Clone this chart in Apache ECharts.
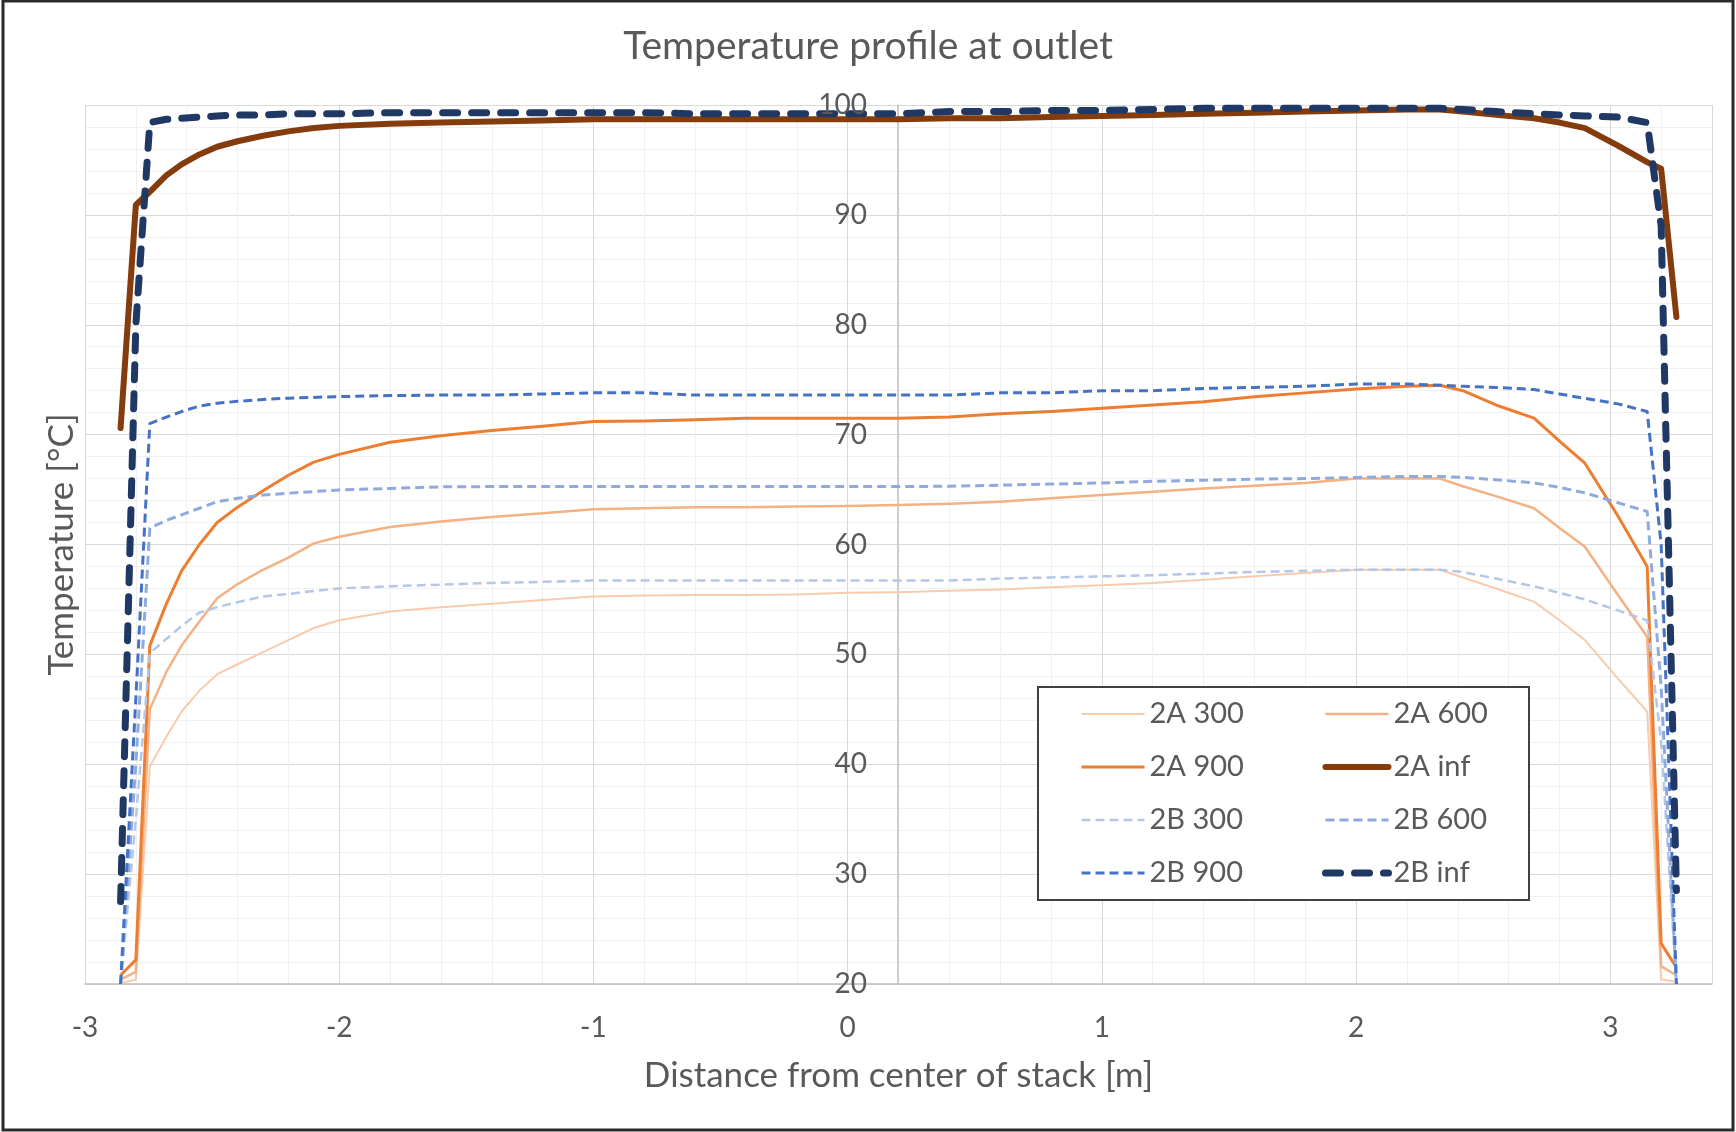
<!DOCTYPE html>
<html>
<head>
<meta charset="utf-8">
<script src="https://cdn.jsdelivr.net/npm/echarts@6/dist/echarts.min.js"></script>
<style>
html,body{margin:0;padding:0;background:#ffffff;}
#chart{width:1736px;height:1132px;}
</style>
</head>
<body>
<div id="chart"></div>
<script>
// Distance from center of stack [m]
const xValues = [-2.86, -2.80, -2.745, -2.68, -2.62, -2.55, -2.48, -2.40, -2.30, -2.20,
  -2.10, -2.00, -1.80, -1.60, -1.40, -1.20, -1.00, -0.80, -0.60, -0.40,
  -0.20, 0.00, 0.20, 0.40, 0.60, 0.80, 1.00, 1.20, 1.40, 1.60,
  1.80, 2.00, 2.20, 2.33, 2.42, 2.55, 2.70, 2.80, 2.90, 3.03,
  3.145, 3.20, 3.26];

// Temperature [°C]
const t2A300 = [20.1, 20.4, 39.8, 42.5, 44.8, 46.7, 48.2, 49.1, 50.2, 51.3,
  52.4, 53.1, 53.9, 54.3, 54.6, 54.95, 55.27, 55.35, 55.4, 55.4,
  55.45, 55.6, 55.65, 55.8, 55.9, 56.1, 56.3, 56.5, 56.8, 57.1,
  57.4, 57.7, 57.7, 57.7, 57.0, 56.0, 54.8, 53.1, 51.3, 47.8,
  44.8, 20.4, 20.2];
const t2A600 = [20.4, 21.1, 45.0, 48.4, 50.8, 53.0, 55.1, 56.4, 57.7, 58.8,
  60.1, 60.7, 61.6, 62.1, 62.5, 62.85, 63.2, 63.3, 63.4, 63.4,
  63.45, 63.5, 63.6, 63.7, 63.9, 64.2, 64.5, 64.8, 65.1, 65.35,
  65.6, 66.0, 66.0, 66.0, 65.3, 64.4, 63.3, 61.5, 59.8, 55.4,
  51.6, 21.6, 20.8];
const t2A900 = [20.8, 22.2, 50.8, 54.6, 57.6, 60.0, 62.0, 63.4, 64.9, 66.3,
  67.5, 68.2, 69.3, 69.9, 70.37, 70.77, 71.2, 71.25, 71.35, 71.5,
  71.5, 71.5, 71.5, 71.6, 71.9, 72.1, 72.4, 72.7, 73.0, 73.45,
  73.8, 74.15, 74.4, 74.5, 74.0, 72.7, 71.5, 69.4, 67.4, 62.6,
  58.0, 23.7, 21.5];
const t2Ainf = [70.6, 90.9, 92.1, 93.6, 94.6, 95.5, 96.2, 96.7, 97.2, 97.6,
  97.9, 98.1, 98.3, 98.4, 98.5, 98.6, 98.7, 98.7, 98.7, 98.7,
  98.7, 98.7, 98.7, 98.8, 98.8, 98.9, 99.0, 99.1, 99.2, 99.3,
  99.4, 99.5, 99.6, 99.6, 99.4, 99.1, 98.8, 98.4, 97.9, 96.3,
  94.8, 94.2, 80.7];
const t2B300 = [20.0, 35.0, 50.1, 51.4, 52.6, 53.8, 54.3, 54.75, 55.27, 55.5,
  55.77, 56.0, 56.2, 56.35, 56.5, 56.6, 56.72, 56.72, 56.72, 56.72,
  56.72, 56.72, 56.72, 56.72, 56.9, 57.0, 57.1, 57.2, 57.35, 57.5,
  57.6, 57.7, 57.7, 57.7, 57.5, 56.9, 56.2, 55.6, 55.0, 54.0,
  53.1, 42.0, 20.0];
const t2B600 = [20.0, 40.0, 61.5, 62.2, 62.7, 63.3, 63.9, 64.2, 64.5, 64.67,
  64.82, 64.97, 65.1, 65.25, 65.27, 65.27, 65.27, 65.27, 65.27, 65.27,
  65.27, 65.27, 65.27, 65.3, 65.4, 65.5, 65.6, 65.75, 65.85, 65.95,
  66.0, 66.1, 66.2, 66.2, 66.1, 65.9, 65.6, 65.2, 64.7, 63.8,
  63.0, 47.0, 20.0];
const t2B900 = [20.0, 46.0, 71.0, 71.6, 72.1, 72.6, 72.85, 73.03, 73.2, 73.32,
  73.39, 73.46, 73.55, 73.6, 73.6, 73.7, 73.8, 73.8, 73.6, 73.6,
  73.6, 73.6, 73.6, 73.6, 73.8, 73.8, 74.0, 74.0, 74.2, 74.3,
  74.4, 74.6, 74.6, 74.5, 74.4, 74.3, 74.1, 73.7, 73.3, 72.8,
  72.1, 60.0, 20.0];
const t2Binf = [27.5, 80.0, 98.4, 98.7, 98.8, 98.9, 99.0, 99.1, 99.1, 99.2,
  99.2, 99.2, 99.3, 99.3, 99.3, 99.3, 99.3, 99.3, 99.2, 99.2,
  99.2, 99.2, 99.2, 99.4, 99.4, 99.5, 99.5, 99.6, 99.7, 99.7,
  99.7, 99.7, 99.7, 99.7, 99.6, 99.4, 99.2, 99.1, 99.0, 98.9,
  98.4, 89.0, 28.5];

const seriesNames = ['2A 300', '2A 600', '2A 900', '2A inf', '2B 300', '2B 600', '2B 900', '2B inf'];
const seriesValues = [t2A300, t2A600, t2A900, t2Ainf, t2B300, t2B600, t2B900, t2Binf];
const legendColumn1 = ['2A 300', '2A 900', '2B 300', '2B 900'];
const legendColumn2 = ['2A 600', '2A inf', '2B 600', '2B inf'];

const chartTitle = 'Temperature profile at outlet';
const xAxisTitle = 'Distance from center of stack [m]';
const yAxisTitle = 'Temperature [°C]';

// styles
const styles = {
  '2A 300': {color: '#F8CBAD', width: 2,   type: 'solid', cap: 'butt'},
  '2A 600': {color: '#F4B183', width: 2.5, type: 'solid', cap: 'butt'},
  '2A 900': {color: '#ED7D31', width: 3,   type: 'solid', cap: 'butt'},
  '2A inf': {color: '#843C0C', width: 6,   type: 'solid', cap: 'round'},
  '2B 300': {color: '#B4C7E7', width: 2.5, type: [9, 5], cap: 'butt'},
  '2B 600': {color: '#8FAADC', width: 3,   type: [9, 5], cap: 'butt'},
  '2B 900': {color: '#4472C4', width: 3,   type: [9, 5], cap: 'butt'},
  '2B inf': {color: '#203864', width: 7,   type: [15, 14], cap: 'round'}
};

const FONT = 'Lato';
const TXT = '#595959';

const series = seriesNames.map((name, k) => {
  const s = styles[name];
  return {
    name: name,
    type: 'line',
    xAxisIndex: 0,
    yAxisIndex: 0,
    symbol: 'none',
    smooth: false,
    animation: false,
    z: 2,
    itemStyle: {color: s.color},
    lineStyle: {color: s.color, width: s.width, type: s.type, cap: s.cap, join: 'round'},
    data: xValues.map((x, i) => [x, seriesValues[k][i]])
  };
});

const legendCommon = {
  orient: 'vertical',
  top: 699,
  itemWidth: 63,
  itemHeight: 2,
  itemGap: 23,
  padding: 0,
  selectedMode: false,
  z: 6,
  itemStyle: {opacity: 0, borderWidth: 0},
  lineStyle: {width: 'inherit'},
  textStyle: {fontSize: 29, color: TXT, fontFamily: FONT, lineHeight: 30}
};

const option = {
  backgroundColor: '#ffffff',
  animation: false,
  title: {
    text: chartTitle,
    left: 'center',
    top: 27,
    padding: 0,
    textStyle: {fontSize: 39, fontWeight: 'normal', color: TXT, fontFamily: FONT}
  },
  grid: {left: 85, right: 24, top: 105, bottom: 148, containLabel: false},
  xAxis: {
    type: 'value',
    min: -3, max: 3.4, interval: 1,
    axisLine: {show: true, onZero: false, lineStyle: {color: '#BFBFBF', width: 1.5}},
    axisTick: {show: false},
    axisLabel: {
      margin: 30, fontSize: 28, color: TXT, fontFamily: FONT,
      formatter: v => (Math.abs(v - Math.round(v)) < 1e-9 ? String(Math.round(v)) : '')
    },
    splitLine: {show: true, lineStyle: {color: '#D9D9D9', width: 1}},
    minorTick: {show: false, splitNumber: 5},
    minorSplitLine: {show: true, lineStyle: {color: '#F0F0F0', width: 1}},
    name: xAxisTitle,
    nameLocation: 'middle',
    nameGap: 74,
    nameTextStyle: {fontSize: 35, color: TXT, fontFamily: FONT}
  },
  yAxis: [
    {
      type: 'value',
      min: 20, max: 100, interval: 10,
      position: 'left',
      offset: -813,
      z: 0,
      axisLine: {show: true, onZero: false, lineStyle: {color: '#BFBFBF', width: 1.5}},
      axisTick: {show: false},
      axisLabel: {show: false},
      splitLine: {show: true, lineStyle: {color: '#D9D9D9', width: 1}},
      minorTick: {show: false, splitNumber: 5},
      minorSplitLine: {show: true, lineStyle: {color: '#F0F0F0', width: 1}},
      name: yAxisTitle,
      nameLocation: 'middle',
      nameGap: 819,
      nameTextStyle: {fontSize: 35, color: TXT, fontFamily: FONT}
    },
    {
      type: 'value',
      min: 20, max: 100, interval: 10,
      position: 'left',
      offset: -813,
      z: 5,
      axisLine: {show: false, onZero: false},
      axisTick: {show: false},
      splitLine: {show: false},
      axisLabel: {show: true, margin: 31, fontSize: 28, color: TXT, fontFamily: FONT}
    }
  ],
  legend: [
    Object.assign({}, legendCommon, {left: 1080, data: legendColumn1}),
    Object.assign({}, legendCommon, {left: 1322, data: legendColumn2})
  ],
  graphic: [
    {
      type: 'rect', z: 3, silent: true,
      shape: {x: 1038, y: 687, width: 491, height: 213},
      style: {fill: '#ffffff', stroke: '#404040', lineWidth: 2}
    },
    {
      type: 'rect', z: 10, silent: true,
      shape: {x: 3, y: 1, width: 1730, height: 1129},
      style: {fill: 'transparent', stroke: '#2b2b2b', lineWidth: 3}
    }
  ],
  series: series
};

const chart = echarts.init(document.getElementById('chart'), null, {renderer: 'canvas', width: 1736, height: 1132});
chart.setOption(option);
</script>
</body>
</html>
